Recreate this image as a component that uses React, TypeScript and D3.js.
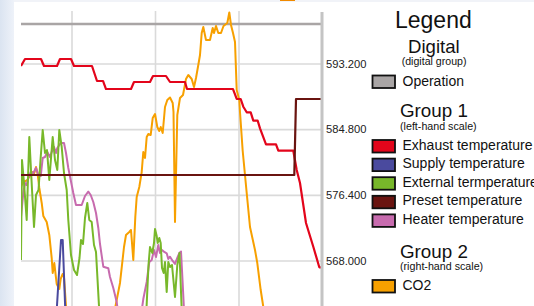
import React from 'react';
import * as d3 from 'd3';

const W = 534;
const H = 306;

// tick values
const rightTicks = [568.0, 576.4, 584.8, 593.2];
const timeGrid = [51, 134.5, 218];

// series: [time, value]
const operation: [number, number][] = [[0, 1], [301, 1]];

const exhaust: [number, number][] = [
  [0, 43.17], [4, 44.33], [20, 44.33], [23, 43.17], [36, 43.17], [39, 44.33], [50, 44.33], [53, 43.17],
  [71, 43.17], [76, 40.67], [82, 40.67], [85, 39.33], [110, 39.33], [113, 40.5], [129, 40.5], [132, 41.5],
  [145, 41.5], [149, 40.5], [164, 40.5], [166, 39.33], [212, 39.33], [215.7, 37.67], [219.7, 37.67],
  [222.3, 36.38], [225.7, 35.45], [229.7, 35.45], [232.3, 34.05], [236.7, 34.05], [239, 32.78],
  [245, 30.12], [255, 30.12], [257.3, 29.05], [272.3, 29.05], [275.7, 25.83], [279, 23.67], [285, 17],
  [292.3, 13.05], [298.3, 9.62], [301, 9.62],
];

const supply: [number, number][] = [
  [0, -2.5], [29, -2.5], [34.5, -0.83], [40, 14.17], [41.7, 14.17], [45, -0.83], [69, -2.5], [301, -2.5],
];

const external: [number, number][] = [
  [0, 10.83], [1, 27.5], [3, 23.67], [5.7, 17.5], [8.3, 31.33], [10.5, 24.17], [13, 16.33], [15, 21.67],
  [17.5, 22.5], [19.5, 27.5], [21.7, 32.5], [24, 28.67], [26, 29.17], [28.3, 24.17], [31.7, 31.33],
  [34, 27.5], [36.3, 25.83], [38.3, 32.5], [40.7, 29.67], [43, 25.33], [45.7, 22.5], [47.3, 17.5],
  [50, 11.67], [53, 9.17], [56, 8.33], [58.5, 11.17], [60, 14.17], [62, 13.5], [64, 17.83], [66.3, 20.33],
  [68.3, 17.5], [70.7, 17.17], [73, 13.33], [75, 12.17], [78, 3.17], [81, -0.83], [99, -3.33],
  [124.5, -0.83], [127.5, 10], [129, 13], [131.3, 12], [133, 13.67], [134, 16], [135.7, 14.83],
  [136.7, 13.67], [138.3, 14.5], [139.7, 13.67], [141, 9.5], [142.7, 8.67], [144, 10.5], [145.7, 5.5],
  [147.3, 10.5], [149, 9.67], [151, 10], [154, 4.67], [156.3, 10], [158.5, 12], [161.5, -0.83],
  [179, -3.33], [301, -3.33],
];

const preset: [number, number][] = [[0, 25], [273.3, 25], [275, 37.67], [301, 37.67]];

const heater: [number, number][] = [
  [0, 18], [2.3, 22], [4, 23.67], [5.7, 23.33], [7.3, 24.5], [9.7, 25.5], [12.3, 25.33], [15, 26.17],
  [17.3, 25], [19.7, 24.83], [21.7, 27.83], [24, 28], [26.3, 28.83], [29, 28], [30.7, 28.83], [33, 29.67],
  [35, 28.67], [36.3, 29.5], [39.7, 30.33], [43, 30.33], [45, 28.67], [47.3, 26.17], [49.7, 24.17],
  [52.3, 22], [55, 20], [60.7, 20], [64, 21.5], [67.3, 22.22], [69.7, 21.67], [72.3, 20.5], [75, 18.67],
  [77.3, 16.17], [79, 13.5], [82.3, 9.72], [87.3, 9.45], [89, 8], [92.3, 6.17], [95.7, 3.83], [97, 2.17],
  [109, -1.67], [120.5, 2.17], [122.3, 4.33], [125.7, 7.17], [128.3, 10.5], [130.7, 10.83], [133, 12.5],
  [135, 11.33], [137.3, 13.33], [139, 12], [141, 12.5], [143.3, 12.17], [145.7, 11.95], [147.3, 11],
  [149, 11.38], [151.7, 10.67], [154, 10.17], [156.3, 11.17], [158.3, 12], [160, 12.25], [161.5, 7.5],
  [163, 2.5], [179, -1.67], [301, -1.67],
];

const co2: [number, number][] = [
  [0, 577.47], [2, 578.11], [5.7, 578.3], [9, 578.87], [11.7, 579.38], [13.3, 579.26], [15, 580.02],
  [16.5, 579.26], [18.3, 577.34], [20.7, 575.42], [22.3, 573.76], [25.7, 572.99], [28.3, 571.33],
  [30.7, 568.38], [31.7, 566.46], [33.3, 567.74], [35.7, 565.06], [38.3, 564.42], [39.7, 565.7],
  [41.7, 566.34], [43, 565.95], [45, 562.24], [49, 559.17], [79, 557.25], [91, 559.94], [95.7, 563.01],
  [99, 565.19], [103, 569.79], [105, 571.33], [108.3, 571.71], [110, 571.97], [112.3, 568.13],
  [114.3, 573.63], [115.7, 576.19], [118.3, 577.47], [120.7, 579.38], [122.3, 581.94], [124, 581.18],
  [125.7, 583.86], [127.3, 584.25], [129.7, 584.12], [131.7, 586.29], [134, 586.8], [136.3, 585.14],
  [138.3, 584.63], [139.7, 585.14], [141.7, 584.37], [144, 587.7], [146.3, 588.6], [149, 588.92],
  [151.7, 588.21], [152.5, 587.06], [154, 572.99], [156.3, 586.68], [159, 588.85], [162, 589.23],
  [165, 591.28], [167.3, 591.79], [170.7, 591.28], [173, 590.26], [175, 591.41], [177.3, 593.07],
  [179, 594.35], [180.7, 597.17], [182.3, 597.93], [185, 596.27], [189, 596.27], [191.7, 597.81],
  [193, 597.17], [195, 598.06], [197.3, 597.17], [200, 597.17], [202.5, 598.06], [206.3, 598.45],
  [208.3, 599.79], [210, 598.19], [212, 597.17], [214, 596.01], [215.7, 589.87], [218.3, 588.6],
  [219, 587.06], [221.7, 582.07], [225.7, 576.7], [229, 572.35], [234, 569.41], [236.3, 567.74],
  [239.7, 564.29], [241.7, 562.63], [245, 559.81], [280, 555.34],
];

const digitalNames = ['Operation'];
const group1Names = ['Exhaust temperature', 'Supply temperature', 'External termperature', 'Preset temperature', 'Heater temperature'];
const group2Names = ['CO2'];

const colors: Record<string, string> = {
  'Operation': '#a9a5a5',
  'Exhaust temperature': '#e3051b',
  'Supply temperature': '#4a4a9e',
  'External termperature': '#78b82a',
  'Preset temperature': '#6a1410',
  'Heater temperature': '#c76bae',
  'CO2': '#f7a000',
};

const FONT = '"Liberation Sans", Arial, sans-serif';

export default function App() {
  const x = d3.scaleLinear().domain([0, 301]).range([21, 322]);
  const yLeft = d3.scaleLinear().domain([0, 50]).range([325, 25]);
  const yRight = d3.scaleLinear().domain([568, 593.2]).range([261, 64]);
  const yDigital = d3.scaleLinear().domain([0, 1]).range([60, 24]);
  const fmt = d3.format('.3f');

  const lineFor = (y: d3.ScaleLinear<number, number>) =>
    d3.line<[number, number]>().x(d => x(d[0])).y(d => y(d[1]));

  const lLeft = lineFor(yLeft);
  const lRight = lineFor(yRight);
  const lDig = lineFor(yDigital);

  const plotTop = 11;
  const [x0, x1] = x.range();

  const legendRowsG1 = group1Names.map((n, i) => ({ n, y: 140 + i * 18.6 }));

  return (
    <svg width={W} height={H} style={{ position: 'fixed', left: 0, top: 0, display: 'block' }}
      xmlns="http://www.w3.org/2000/svg">
      <defs>
        <linearGradient id="bgL" x1="0" x2="1" y1="0" y2="0">
          <stop offset="0" stopColor="#dbe4f1" />
          <stop offset="1" stopColor="#eef2f9" />
        </linearGradient>
        <clipPath id="plotClip">
          <rect x={x0} y={0} width={x1 - x0} height={H + 20} />
        </clipPath>
      </defs>
      <rect x={0} y={0} width={W} height={H} fill="#f1f3f8" />
      <rect x={0} y={0} width={14} height={H} fill="url(#bgL)" />
      <rect x={14} y={2} width={W - 14} height={H} fill="#ffffff" />
      <rect x={280} y={-4} width={15} height={5} fill="#f08a00" />

      {/* grid */}
      {timeGrid.map(t => (
        <line key={'v' + t} x1={x(t)} x2={x(t)} y1={plotTop} y2={H} stroke="#dadada" strokeWidth={1.6} />
      ))}
      {rightTicks.map(v => (
        <line key={'h' + v} x1={x0} x2={x1} y1={yRight(v)} y2={yRight(v)} stroke="#dadada" strokeWidth={1.6} />
      ))}

      <g clipPath="url(#plotClip)" fill="none" strokeLinejoin="round">
        <path d={lDig(operation) || ''} stroke={colors['Operation']} strokeWidth={2.6} />
        <path d={lRight(co2) || ''} stroke={colors['CO2']} strokeWidth={2} />
        <path d={lLeft(heater) || ''} stroke={colors['Heater temperature']} strokeWidth={2} />
        <path d={lLeft(external) || ''} stroke={colors['External termperature']} strokeWidth={2} />
        <path d={lLeft(supply) || ''} stroke={colors['Supply temperature']} strokeWidth={2} />
        <path d={lLeft(exhaust) || ''} stroke={colors['Exhaust temperature']} strokeWidth={2.2} />
        <path d={lLeft(preset) || ''} stroke={colors['Preset temperature']} strokeWidth={2.2} />
      </g>

      {/* right axis */}
      <line x1={x1} x2={x1} y1={plotTop + 1} y2={H} stroke="#c4c4c4" strokeWidth={3} />
      {rightTicks.map(v => (
        <text key={'t' + v} x={326} y={yRight(v) + 3.6} fontFamily={FONT} fontSize={11.2} fill="#222">
          {fmt(v)}
        </text>
      ))}

      {/* legend */}
      <g fontFamily={FONT} fill="#111">
        <text x={395} y={28.3} fontSize={23}>Legend</text>
        <text x={408} y={53.3} fontSize={18.6}>Digital</text>
        <text x={401.7} y={65} fontSize={10.6}>(digital group)</text>
        {digitalNames.map(n => (
          <g key={n}>
            <rect x={372.5} y={75.5} width={22.5} height={12.5} fill={colors[n]} stroke="#111" strokeWidth={1.8} />
            <text x={402.5} y={85.5} fontSize={14}>{n}</text>
          </g>
        ))}
        <text x={400} y={117.3} fontSize={18.8}>Group 1</text>
        <text x={400} y={130} fontSize={10.7}>(left-hand scale)</text>
        {legendRowsG1.map(r => (
          <g key={r.n}>
            <rect x={372.5} y={r.y} width={22.5} height={12.5} fill={colors[r.n]} stroke="#111" strokeWidth={1.8} />
            <text x={402.5} y={r.y + 9.6} fontSize={14}>{r.n}</text>
          </g>
        ))}
        <text x={400} y={258.3} fontSize={18.8}>Group 2</text>
        <text x={400} y={270} fontSize={10.7}>(right-hand scale)</text>
        {group2Names.map(n => (
          <g key={n}>
            <rect x={372.5} y={280} width={22.5} height={12.5} fill={colors[n]} stroke="#111" strokeWidth={1.8} />
            <text x={402.5} y={289.5} fontSize={14}>{n}</text>
          </g>
        ))}
      </g>
    </svg>
  );
}
